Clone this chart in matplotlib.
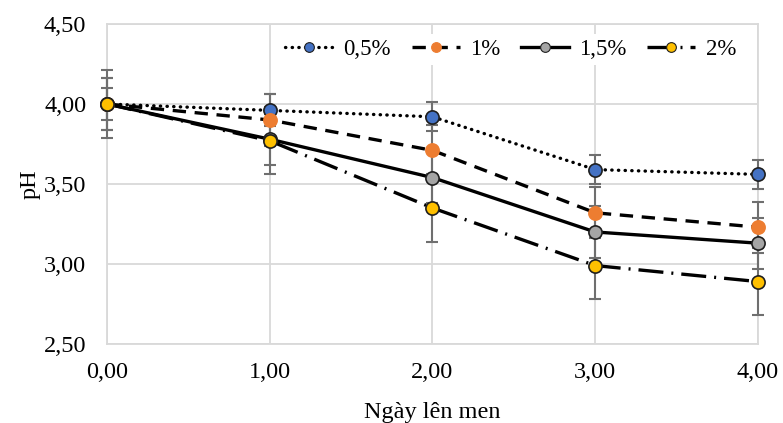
import matplotlib
matplotlib.use("Agg")
import matplotlib.pyplot as plt
from matplotlib.lines import Line2D
from matplotlib.ticker import FuncFormatter

days = [0, 1, 2, 3, 4]
labels = ["0,5%", "1%", "1,5%", "2%"]
ph_05 = [4.00, 3.96, 3.92, 3.59, 3.56]
ph_1 = [4.00, 3.90, 3.71, 3.32, 3.23]
ph_15 = [4.00, 3.78, 3.54, 3.20, 3.13]
ph_2 = [4.00, 3.77, 3.35, 2.99, 2.89]
err_05 = [0.10, 0.10, 0.09, 0.09, 0.09]
err_1 = [0.16, 0.16, 0.16, 0.16, 0.16]
err_15 = [0.16, 0.16, 0.16, 0.16, 0.16]
err_2 = [0.21, 0.21, 0.21, 0.21, 0.21]

plt.rcParams['font.family'] = ['Liberation Serif', 'DejaVu Serif']

series = [ph_05, ph_1, ph_15, ph_2]
errors = [err_05, err_1, err_15, err_2]
face = ['#4472C4', '#ED7D31', '#A5A5A5', '#FFC000']
edge = ['#1F1F1F', '#ED7D31', '#1F1F1F', '#1F1F1F']
styles = [(0, (0.1, 1.9)), (0, (4.0, 2.6)), '-', (0, (7.5, 2.4, 0.6, 2.4))]
caps = ['round', 'butt', 'butt', 'butt']

fig = plt.figure(figsize=(7.83, 4.23), dpi=100)
ax = fig.add_axes([0.1367, 0.1868, 0.8313, 0.7565])

handles = []
for i in range(4):
    ax.errorbar(days, series[i], yerr=errors[i], fmt='none', ecolor='#6F6F6F',
                elinewidth=1.5, capsize=4.5, capthick=1.5, zorder=3, clip_on=False)
    ax.plot(days, series[i], color='black', lw=2.4, ls=styles[i],
            dash_capstyle=caps[i], solid_capstyle='butt', zorder=2 + i * 0.01)
    ax.plot(days, series[i], ls='none', marker='o', ms=9.5, mfc=face[i],
            mec=edge[i], mew=1.2, zorder=4 + i * 0.01, clip_on=False)
    handles.append(Line2D([], [], color='black', lw=2.4, ls=styles[i],
                          dash_capstyle=caps[i], marker='o', ms=7,
                          mfc=face[i], mec=edge[i], mew=0.8))

ax.set_xlim(0, 4)
ax.set_ylim(2.5, 4.5)
ax.set_xticks([0, 1, 2, 3, 4])
ax.set_yticks([2.5, 3.0, 3.5, 4.0, 4.5])
fmt = FuncFormatter(lambda v, p: f"{v:.2f}".replace('.', ','))
ax.xaxis.set_major_formatter(fmt)
ax.yaxis.set_major_formatter(fmt)
ax.tick_params(length=0, labelsize=17.5, colors='black')
ax.tick_params(axis='y', pad=15)
ax.tick_params(axis='x', pad=13)
ax.grid(True, color='#D9D9D9', lw=1.3, zorder=0)
ax.set_axisbelow(True)
for s in ax.spines.values():
    s.set_color('#D9D9D9')
    s.set_linewidth(1.3)

ax.set_ylabel('pH', fontsize=17.5)
ax.yaxis.set_label_coords(-0.102, 0.5)
fig.text(0.552, 0.025, 'Ngày lên men', fontsize=17.5, ha='center', va='center')

leg = ax.legend(handles, labels, ncol=4, loc='center', bbox_to_anchor=(0.62, 0.92),
                fontsize=16.5, frameon=True, facecolor='white', edgecolor='none',
                framealpha=1, fancybox=False, handlelength=2.1, handletextpad=0.45,
                columnspacing=0.9, numpoints=1, borderpad=0.2)
leg.set_zorder(5)

fig.savefig('out.png', dpi=100)
